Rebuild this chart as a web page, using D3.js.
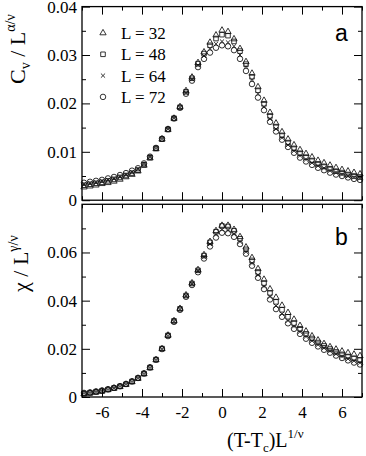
<!DOCTYPE html>
<html>
<head>
<meta charset="utf-8">
<script src="https://cdn.jsdelivr.net/npm/d3@7"></script>
<style>
  body { margin: 0; background: #fff; }
</style>
</head>
<body>
<script>
// scaling variable (T-Tc)L^(1/nu), shared by all sizes
var xs = [-6.9,-6.6,-6.3,-6.0,-5.7,-5.4,-5.1,-4.8,-4.5,-4.2,-3.9,-3.6,-3.3,-3.0,-2.7,-2.4,-2.1,-1.8,-1.5,-1.2,-0.9,-0.6,-0.3,0,
          0.3,0.6,0.9,1.2,1.5,1.8,2.1,2.4,2.7,3.0,3.3,3.6,3.9,4.2,4.5,4.8,5.1,5.4,5.7,6.0,6.3,6.6,6.9];

var sizes = [32, 48, 64, 72];

// panel a : Cv / L^(alpha/nu)
var cv32 = [0.0027,0.0029,0.0031,0.0034,0.0036,0.0039,0.0043,0.0048,0.0053,0.0060,0.0072,0.0087,0.0106,0.0126,0.0146,0.0169,0.0193,0.0226,0.0254,0.0284,0.0306,0.0326,0.0341,0.0351,
            0.0348,0.0333,0.0313,0.0286,0.0262,0.0234,0.0206,0.0181,0.0159,0.0141,0.0126,0.0114,0.0104,0.0096,0.0089,0.0082,0.0077,0.0072,0.0067,0.0063,0.0060,0.0057,0.0054];
var cv48 = [0.0031,0.0033,0.0035,0.0037,0.0040,0.0043,0.0047,0.0051,0.0056,0.0062,0.0073,0.0088,0.0107,0.0126,0.0146,0.0169,0.0192,0.0224,0.0252,0.0282,0.0303,0.0320,0.0334,0.0342,
            0.0340,0.0328,0.0308,0.0281,0.0255,0.0227,0.0199,0.0174,0.0152,0.0134,0.0119,0.0107,0.0097,0.0089,0.0082,0.0075,0.0070,0.0065,0.0060,0.0057,0.0053,0.0050,0.0048];
var cv64 = [0.0033,0.0035,0.0037,0.0040,0.0042,0.0045,0.0049,0.0053,0.0058,0.0064,0.0074,0.0089,0.0107,0.0127,0.0147,0.0170,0.0192,0.0222,0.0250,0.0279,0.0298,0.0313,0.0323,0.0328,
            0.0326,0.0318,0.0300,0.0276,0.0249,0.0220,0.0193,0.0168,0.0147,0.0129,0.0114,0.0102,0.0092,0.0084,0.0077,0.0071,0.0066,0.0061,0.0057,0.0053,0.0050,0.0047,0.0045];
var cv72 = [0.0036,0.0038,0.0040,0.0042,0.0045,0.0048,0.0052,0.0056,0.0061,0.0066,0.0076,0.0090,0.0108,0.0127,0.0147,0.0169,0.0191,0.0220,0.0247,0.0275,0.0292,0.0305,0.0315,0.0320,
            0.0318,0.0310,0.0292,0.0267,0.0240,0.0212,0.0186,0.0162,0.0142,0.0125,0.0110,0.0098,0.0088,0.0080,0.0073,0.0067,0.0062,0.0057,0.0053,0.0050,0.0047,0.0044,0.0042];

// panel b : chi / L^(gamma/nu)
var chi32 = [0.0013,0.0016,0.0020,0.0024,0.0030,0.0036,0.0043,0.0052,0.0063,0.0077,0.0096,0.0121,0.0154,0.0200,0.0256,0.0316,0.0367,0.0423,0.0473,0.0528,0.0590,0.0645,0.0690,0.0712,
             0.0712,0.0695,0.0665,0.0622,0.0578,0.0532,0.0488,0.0448,0.0413,0.0380,0.0350,0.0322,0.0296,0.0273,0.0253,0.0236,0.0221,0.0208,0.0198,0.0190,0.0183,0.0177,0.0171];
var chi48 = [0.0014,0.0017,0.0021,0.0025,0.0031,0.0037,0.0044,0.0053,0.0064,0.0078,0.0097,0.0122,0.0155,0.0201,0.0256,0.0316,0.0366,0.0421,0.0471,0.0526,0.0587,0.0642,0.0686,0.0710,
             0.0708,0.0690,0.0657,0.0613,0.0567,0.0519,0.0473,0.0432,0.0395,0.0362,0.0333,0.0307,0.0283,0.0262,0.0243,0.0226,0.0212,0.0199,0.0187,0.0177,0.0168,0.0160,0.0153];
var chi64 = [0.0015,0.0018,0.0022,0.0026,0.0031,0.0037,0.0044,0.0053,0.0064,0.0078,0.0097,0.0122,0.0155,0.0200,0.0255,0.0314,0.0364,0.0419,0.0469,0.0523,0.0582,0.0635,0.0675,0.0695,
             0.0692,0.0676,0.0645,0.0603,0.0555,0.0506,0.0459,0.0417,0.0378,0.0345,0.0317,0.0293,0.0271,0.0251,0.0233,0.0217,0.0203,0.0190,0.0178,0.0168,0.0158,0.0150,0.0142];
var chi72 = [0.0017,0.0019,0.0023,0.0027,0.0032,0.0038,0.0045,0.0054,0.0065,0.0079,0.0098,0.0123,0.0155,0.0199,0.0253,0.0312,0.0362,0.0416,0.0465,0.0518,0.0575,0.0625,0.0662,0.0682,
             0.0680,0.0665,0.0635,0.0595,0.0545,0.0495,0.0448,0.0405,0.0365,0.0333,0.0306,0.0283,0.0262,0.0242,0.0225,0.0210,0.0196,0.0184,0.0172,0.0162,0.0152,0.0143,0.0135];

var xTicks = [-6, -4, -2, 0, 2, 4, 6];
var xMinor = [-7, -5, -3, -1, 1, 3, 5, 7];
var cvTicks = [0, 0.01, 0.02, 0.03, 0.04];
var cvMinor = [0.005, 0.015, 0.025, 0.035];
var chiTicks = [0, 0.02, 0.04, 0.06];
var chiMinor = [0.01, 0.03, 0.05, 0.07];

var w = 366, h = 456;
var left = 82, right = 362;
var serif = 'Liberation Serif';
var symbols = [d3.symbolTriangle, d3.symbolSquare, d3.symbolTimes, d3.symbolCircle];
var symSizes = [17, 21, 13, 24];

var svg = d3.select('body').append('svg')
  .attr('width', w)
  .attr('height', h)
  .attr('font-family', serif);

var x = d3.scaleLinear().domain([-7, 7]).range([left, right]);

// plain hyphen for negatives, like the original
var xFmt = function(d) { return String(d); };
var yFmt = function(d) { return d === 0 ? '0' : d.toFixed(2); };

function drawPanel(top, bottom, yMax, major, minor, series, letter, showX) {
  var y = d3.scaleLinear().domain([0, yMax]).range([bottom, top]);
  var g = svg.append('g');

  // points, one group per size
  series.forEach(function(vals, i) {
    var sym = d3.symbol().type(symbols[i]).size(symSizes[i]);
    g.append('g').selectAll('path')
      .data(xs.map(function(d, j) { return [d, vals[j]]; }))
      .enter().append('path')
      .attr('d', sym)
      .attr('transform', function(d) { return 'translate(' + x(d[0]) + ',' + y(d[1]) + ')'; })
      .attr('fill', 'none')
      .attr('stroke', '#111')
      .attr('stroke-width', 0.85);
  });

  // inward ticks on all four sides
  g.append('g').attr('transform', 'translate(0,' + bottom + ')')
    .call(d3.axisBottom(x).tickValues(xTicks).tickSize(-8).tickPadding(9)
      .tickFormat(showX ? xFmt : ''));
  g.append('g').attr('transform', 'translate(0,' + bottom + ')')
    .call(d3.axisBottom(x).tickValues(xMinor).tickSize(-4).tickFormat(''));
  g.append('g').attr('transform', 'translate(0,' + top + ')')
    .call(d3.axisTop(x).tickValues(xTicks).tickSize(-8).tickFormat(''));
  g.append('g').attr('transform', 'translate(0,' + top + ')')
    .call(d3.axisTop(x).tickValues(xMinor).tickSize(-4).tickFormat(''));
  g.append('g').attr('transform', 'translate(' + left + ',0)')
    .call(d3.axisLeft(y).tickValues(major).tickSize(-8).tickPadding(5).tickFormat(yFmt));
  g.append('g').attr('transform', 'translate(' + left + ',0)')
    .call(d3.axisLeft(y).tickValues(minor).tickSize(-4).tickFormat(''));
  g.append('g').attr('transform', 'translate(' + right + ',0)')
    .call(d3.axisRight(y).tickValues(major).tickSize(-8).tickFormat(''));
  g.append('g').attr('transform', 'translate(' + right + ',0)')
    .call(d3.axisRight(y).tickValues(minor).tickSize(-4).tickFormat(''));

  g.selectAll('.domain').remove();
  g.selectAll('g').attr('font-family', serif).attr('font-size', 17);
  g.selectAll('.tick line').attr('stroke', '#000').attr('stroke-width', 1);
  g.selectAll('.tick text')
    .attr('font-family', serif)
    .attr('font-size', 17)
    .attr('fill', '#000');

  // frame
  g.append('rect')
    .attr('x', left).attr('y', top)
    .attr('width', right - left).attr('height', bottom - top)
    .attr('fill', 'none')
    .attr('stroke', '#000')
    .attr('stroke-width', 1.3);

  // panel letter
  g.append('text')
    .attr('x', 335).attr('y', top + (letter === 'a' ? 34 : 41))
    .attr('font-family', 'Liberation Sans')
    .attr('font-size', 23)
    .text(letter);

  return y;
}

drawPanel(6.6, 200.2, 0.04, cvTicks, cvMinor, [cv32, cv48, cv64, cv72], 'a', false);
drawPanel(204.3, 397, 0.08, chiTicks, chiMinor, [chi32, chi48, chi64, chi72], 'b', true);

// legend
var leg = svg.append('g');
sizes.forEach(function(L, i) {
  var ly = 33 + i * 21.3;
  leg.append('path')
    .attr('d', d3.symbol().type(symbols[i]).size(symSizes[i]))
    .attr('transform', 'translate(103,' + ly + ')')
    .attr('fill', 'none')
    .attr('stroke', '#111')
    .attr('stroke-width', 0.85);
  leg.append('text')
    .attr('x', 121).attr('y', ly + 6)
    .attr('font-family', serif)
    .attr('font-size', 17)
    .text('L = ' + L);
});

// y titles (rotated)
var ta = svg.append('text')
  .attr('transform', 'translate(25,84) rotate(-90)')
  .attr('font-family', serif)
  .attr('font-size', 22);
ta.append('tspan').text('C');
ta.append('tspan').attr('dy', 5).attr('font-size', 14).text('v');
ta.append('tspan').attr('dy', -5).text(' / L');
ta.append('tspan').attr('dy', -10).attr('font-size', 14).text('α/ν');

var tb = svg.append('text')
  .attr('transform', 'translate(28,292) rotate(-90)')
  .attr('font-family', serif)
  .attr('font-size', 22);
tb.append('tspan').text('χ / L');
tb.append('tspan').attr('dy', -10).attr('font-size', 14).text('γ/ν');

// x title
var tx = svg.append('text')
  .attr('x', 227).attr('y', 447)
  .attr('font-family', serif)
  .attr('font-size', 20);
tx.append('tspan').text('(T-T');
tx.append('tspan').attr('dy', 5).attr('font-size', 13).text('c');
tx.append('tspan').attr('dy', -5).text(')L');
tx.append('tspan').attr('dy', -9).attr('font-size', 13).text('1/ν');
</script>
</body>
</html>
